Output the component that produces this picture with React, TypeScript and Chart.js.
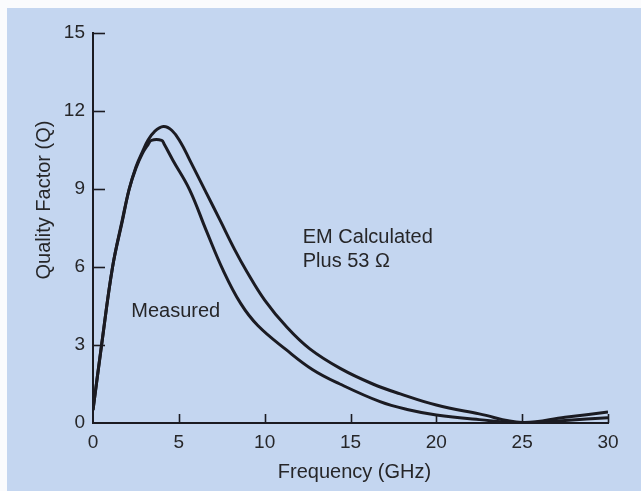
import React, { useEffect, useRef } from "react";
import { Chart, registerables } from "chart.js";

Chart.register(...registerables);

// ---- data ----
const measuredFreq = [0, 0.5, 1.14, 1.72, 2.11, 2.5, 2.89, 3.2, 3.4, 4.0, 4.15, 4.66, 5.63, 6.6, 7.57, 8.6, 9.6, 11.27, 12.8, 14.38, 16.72, 18.3, 20, 22.5, 25, 27.5, 30];
const measuredQ = [0.5, 3.0, 6.0, 7.8, 9.0, 9.8, 10.38, 10.7, 10.87, 10.87, 10.72, 10.1, 8.97, 7.4, 5.89, 4.6, 3.75, 2.81, 2.05, 1.5, 0.82, 0.52, 0.31, 0.13, 0.0, 0.1, 0.2];

const calcFreq = [0, 0.5, 1.14, 1.72, 2.11, 2.5, 2.89, 3.2, 3.57, 4.1, 4.6, 5.1, 5.63, 6.6, 7.4, 8.26, 8.94, 10.0, 11.3, 12.63, 14.4, 16.3, 17.9, 20, 22.5, 25, 27.5, 30];
const calcQ = [0.5, 3.0, 6.0, 7.85, 9.0, 9.85, 10.45, 10.87, 11.2, 11.4, 11.25, 10.8, 10.12, 8.85, 7.8, 6.66, 5.85, 4.73, 3.68, 2.85, 2.1, 1.5, 1.12, 0.69, 0.35, 0.02, 0.22, 0.42];

const xTickValues = [0, 5, 10, 15, 20, 25, 30];
const yTickValues = [0, 3, 6, 9, 12, 15];

const noteTexts = ["EM Calculated", "Plus 53 \u03A9", "Measured"];
const noteFreq = [12.22, 12.22, 2.23];
const noteQ = [6.94, 5.99, 4.09];

const xTitle = "Frequency (GHz)";
const yTitle = "Quality Factor (Q)";

// ---- styles ----
const BG = "#c4d6f0";
const INK = "#1b1b22";
const TEXT = "#262628";
const FONT = '"Liberation Sans", Arial, Helvetica, sans-serif';

const decorPlugin = {
  id: "decor",
  beforeDraw(chart: any) {
    const { ctx, width, height } = chart;
    ctx.save();
    ctx.fillStyle = "#fafbfd";
    ctx.fillRect(0, 0, width, height);
    ctx.fillStyle = BG;
    ctx.fillRect(7, 8, width - 7, height - 8);
    ctx.restore();
  },
  afterDraw(chart: any) {
    const { ctx, chartArea } = chart;
    const xs = chart.scales.x;
    const ys = chart.scales.y;
    ctx.save();
    ctx.strokeStyle = INK;
    ctx.lineWidth = 1.6;
    yTickValues.forEach((v) => {
      if (v === 0) return;
      const py = Math.round(ys.getPixelForValue(v)) + 0.5;
      ctx.beginPath();
      ctx.moveTo(chartArea.left, py);
      ctx.lineTo(chartArea.left + 12, py);
      ctx.stroke();
    });
    xTickValues.forEach((v) => {
      if (v === 0) return;
      const px = Math.round(xs.getPixelForValue(v)) + 0.5;
      ctx.beginPath();
      ctx.moveTo(px, chartArea.bottom);
      ctx.lineTo(px, chartArea.bottom - 9);
      ctx.stroke();
    });

    ctx.fillStyle = TEXT;
    ctx.font = `20px ${FONT}`;
    ctx.textAlign = "left";
    ctx.textBaseline = "alphabetic";
    noteTexts.forEach((t, i) => {
      ctx.fillText(t, xs.getPixelForValue(noteFreq[i]), ys.getPixelForValue(noteQ[i]));
    });

    ctx.textAlign = "center";
    ctx.fillText(xTitle, (chartArea.left + chartArea.right) / 2 + 4, 478);

    ctx.translate(50, 200);
    ctx.rotate(-Math.PI / 2);
    ctx.fillText(yTitle, 0, 0);
    ctx.restore();
  },
};

export default function App() {
  const ref = useRef<HTMLCanvasElement | null>(null);

  useEffect(() => {
    if (!ref.current) return;
    const line = (fs: number[], qs: number[], label: string) => ({
      label,
      data: fs.map((f, i) => ({ x: f, y: qs[i] })),
      showLine: true,
      borderColor: INK,
      borderWidth: 3,
      pointRadius: 0,
      tension: 0.4,
      fill: false,
    });
    const chart = new Chart(ref.current, {
      type: "scatter",
      data: {
        datasets: [
          line(calcFreq, calcQ, "EM Calculated Plus 53 \u03A9"),
          line(measuredFreq, measuredQ, "Measured"),
        ],
      },
      options: {
        animation: false,
        responsive: false,
        maintainAspectRatio: false,
        layout: { padding: { left: 0, top: 33, right: 33, bottom: 0 } },
        plugins: { legend: { display: false }, tooltip: { enabled: false } },
        scales: {
          x: {
            type: "linear",
            min: 0,
            max: 30,
            afterBuildTicks: (s: any) => {
              s.ticks = xTickValues.map((v) => ({ value: v }));
            },
            afterFit: (s: any) => {
              s.height = 68;
            },
            grid: { display: false, drawTicks: false },
            border: { display: true, color: INK, width: 2 },
            ticks: { color: TEXT, font: { family: FONT, size: 19 }, padding: 8, maxRotation: 0 },
          },
          y: {
            type: "linear",
            min: 0,
            max: 15,
            afterBuildTicks: (s: any) => {
              s.ticks = yTickValues.map((v) => ({ value: v }));
            },
            afterFit: (s: any) => {
              s.width = 93;
            },
            grid: { display: false, drawTicks: false },
            border: { display: true, color: INK, width: 2 },
            ticks: { color: TEXT, font: { family: FONT, size: 19 }, padding: 8 },
          },
        },
      },
      plugins: [decorPlugin],
    });
    return () => chart.destroy();
  }, []);

  return (
    <div style={{ position: "absolute", left: 0, top: 0, width: 641, height: 491 }}>
      <canvas ref={ref} width={641} height={491} style={{ display: "block" }} />
    </div>
  );
}
